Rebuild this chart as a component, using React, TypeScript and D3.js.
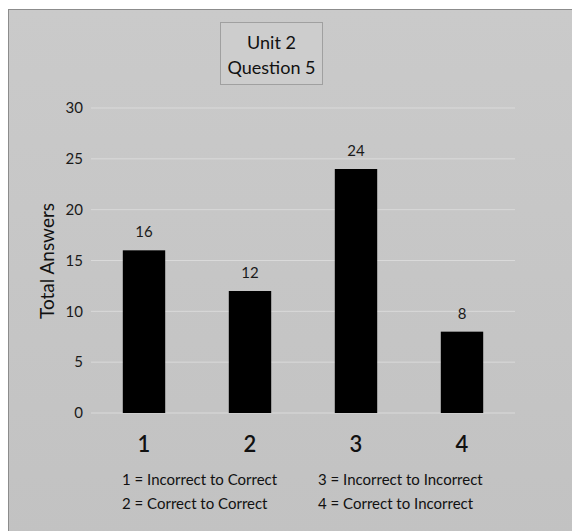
import React from "react";
import * as d3 from "d3";

const categories = ["1", "2", "3", "4"];
const values = [16, 12, 24, 8];
const yTicks = [0, 5, 10, 15, 20, 25, 30];
const titleLines = ["Unit 2", "Question 5"];
const yAxisTitle = "Total Answers";
const legendLeft = ["1 = Incorrect to Correct", "2 = Correct to Correct"];
const legendRight = ["3 = Incorrect to Incorrect", "4 = Correct to Incorrect"];

export default function App() {
  const W = 572, H = 531;
  const font = "Lato, 'Open Sans', sans-serif";
  const x = d3.scaleBand<string>().domain(categories).range([91, 515]).paddingInner(0.6).paddingOuter(0.3);
  const y = d3.scaleLinear().domain([0, 30]).range([413, 108]);
  return (
    <svg width={W} height={H} style={{ position: "absolute", left: 0, top: 0 }}>
      <defs>
        <linearGradient id="bg" x1="0" y1="0" x2="0" y2="1">
          <stop offset="0" stopColor="#cacaca" />
          <stop offset="1" stopColor="#c2c2c2" />
        </linearGradient>
      </defs>
      <rect x={8.5} y={9.5} width={570} height={530} fill="url(#bg)" stroke="#8c8c8c" />
      {yTicks.map((t) => (
        <g key={t}>
          <line x1={91} x2={515} y1={y(t)} y2={y(t)} stroke="#dadada" strokeWidth={1} />
          <text x={83} y={y(t)} dy="0.35em" textAnchor="end" fontFamily={font} fontSize={15} fill="#1a1a1a">{t}</text>
        </g>
      ))}
      {categories.map((c, i) => (
        <g key={c}>
          <rect x={x(c)} y={y(values[i])} width={x.bandwidth()} height={y(0) - y(values[i])} fill="#000" />
          <text x={x(c)! + x.bandwidth() / 2} y={y(values[i]) - 13} textAnchor="middle" fontFamily={font} fontSize={15} fill="#1a1a1a">{values[i]}</text>
          <text x={x(c)! + x.bandwidth() / 2} y={452} textAnchor="middle" fontFamily={font} fontSize={22} fontWeight={600} fill="#111">{c}</text>
        </g>
      ))}
      <text transform={`translate(54,261) rotate(-90)`} textAnchor="middle" fontFamily={font} fontSize={19} fill="#111">{yAxisTitle}</text>
      <rect x={220.5} y={22.5} width={102} height={62} fill="#cdcdcd" stroke="#a0a0a0" />
      {titleLines.map((l, i) => (
        <text key={l} x={271.5} y={49 + i * 25} textAnchor="middle" fontFamily={font} fontSize={18} fill="#111">{l}</text>
      ))}
      {legendLeft.map((l, i) => (
        <text key={l} x={122} y={485 + i * 24} fontFamily={font} fontSize={15} fill="#111">{l}</text>
      ))}
      {legendRight.map((l, i) => (
        <text key={l} x={318} y={485 + i * 24} fontFamily={font} fontSize={15} fill="#111">{l}</text>
      ))}
    </svg>
  );
}
